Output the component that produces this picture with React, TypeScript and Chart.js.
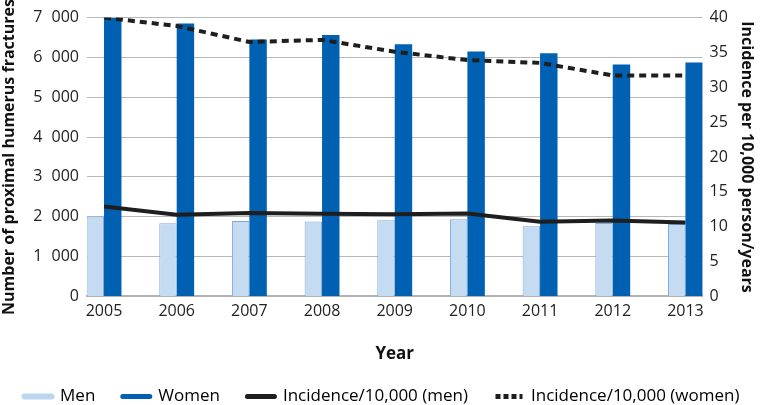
import React, { useEffect, useRef } from "react";
import { Chart, registerables } from "chart.js";

Chart.register(...registerables);

const years = ["2005", "2006", "2007", "2008", "2009", "2010", "2011", "2012", "2013"];
const menCounts = [2005, 1835, 1895, 1880, 1910, 1935, 1760, 1845, 1820];
const womenCounts = [6990, 6850, 6450, 6560, 6330, 6150, 6105, 5825, 5875];
const menIncidence = [12.9, 11.7, 11.95, 11.85, 11.8, 11.9, 10.7, 10.9, 10.6];
const womenIncidence = [40.0, 38.8, 36.5, 36.8, 35.1, 33.9, 33.5, 31.7, 31.7];

const legendNames = ["Men", "Women", "Incidence/10,000 (men)", "Incidence/10,000 (women)"];
const FONT = "'Open Sans', 'Noto Sans', sans-serif";
const GAP = "\u2003\u2002";

function fmt(v: number): string {
  const s = String(Math.round(v));
  return s.replace(/\B(?=(\d{3})+(?!\d))/g, "\u2007");
}

const pts = (arr: number[]) => arr.map((y, i) => ({ x: i, y }));

export default function App() {
  const ref = useRef<HTMLCanvasElement | null>(null);
  useEffect(() => {
    if (!ref.current) return;
    const chart = new Chart(ref.current, {
      type: "bar",
      data: {
        datasets: [
          {
            type: "bar",
            label: legendNames[0],
            data: pts(menCounts),
            backgroundColor: "#c5dbf1",
            borderColor: "#7ea9d8",
            borderWidth: 1,
            yAxisID: "y",
            categoryPercentage: 0.48,
            barPercentage: 1,
            order: 2,
          },
          {
            type: "bar",
            label: legendNames[1],
            data: pts(womenCounts),
            backgroundColor: "#0060b2",
            borderWidth: 0,
            yAxisID: "y",
            categoryPercentage: 0.48,
            barPercentage: 1,
            order: 2,
          },
          {
            type: "line",
            label: legendNames[2],
            data: pts(menIncidence),
            borderColor: "#1e1e1e",
            borderWidth: 4,
            pointRadius: 0,
            tension: 0,
            fill: false,
            yAxisID: "y1",
            order: 0,
          },
          {
            type: "line",
            label: legendNames[3],
            data: pts(womenIncidence),
            borderColor: "#1e1e1e",
            borderWidth: 4,
            borderDash: [7, 5],
            pointRadius: 0,
            tension: 0,
            fill: false,
            yAxisID: "y1",
            order: 0,
          },
        ],
      } as any,
      options: {
        animation: false,
        responsive: false,
        maintainAspectRatio: false,
        layout: { padding: { top: 0, left: 0, right: 0, bottom: -10 } },
        plugins: {
          tooltip: { enabled: false },
          legend: {
            position: "bottom",
            labels: {
              usePointStyle: true,
              pointStyleWidth: 27,
              boxHeight: 16,
              padding: 2,
              color: "#222",
              font: { family: FONT, size: 17 },
              generateLabels: () => [
                { text: legendNames[0] + GAP, pointStyle: "line", strokeStyle: "#bcd6ef", lineWidth: 6, lineCap: "round", fillStyle: "#bcd6ef", datasetIndex: 0 },
                { text: legendNames[1] + GAP, pointStyle: "line", strokeStyle: "#0060b2", lineWidth: 5, lineCap: "round", fillStyle: "#0060b2", datasetIndex: 1 },
                { text: legendNames[2] + GAP, pointStyle: "line", strokeStyle: "#1e1e1e", lineWidth: 5, lineCap: "round", fillStyle: "#1e1e1e", datasetIndex: 2 },
                { text: legendNames[3], pointStyle: "line", strokeStyle: "#1e1e1e", lineWidth: 5, lineDash: [5, 3], lineCap: "butt", fillStyle: "#1e1e1e", datasetIndex: 3 },
              ] as any,
            },
          },
        },
        scales: {
          x: {
            type: "linear",
            min: -0.235,
            max: 8.235,
            offset: false,
            grid: { display: false, drawTicks: false },
            border: { display: true, color: "#b3b3b3", width: 2 },
            ticks: {
              stepSize: 1,
              includeBounds: false,
              autoSkip: false,
              maxRotation: 0,
              color: "#222",
              font: { family: FONT, size: 16 },
              padding: 5,
              callback: (v: any) => {
                const i = Number(v);
                return Number.isInteger(i) && years[i] ? years[i] : "";
              },
            },
            title: {
              display: true,
              text: "Year",
              color: "#111",
              font: { family: FONT, size: 17, weight: "bold" },
              padding: { top: 18, bottom: 22 },
            },
          },
          y: {
            position: "left",
            min: 0,
            max: 7000,
            ticks: {
              stepSize: 1000,
              color: "#222",
              font: { family: FONT, size: 16 },
              padding: 8,
              callback: (v: any) => fmt(Number(v)),
            },
            grid: { color: "#b8b8b8", lineWidth: 1, drawTicks: false },
            border: { display: false },
            title: {
              display: true,
              text: "Number of proximal humerus fractures",
              color: "#111",
              font: { family: FONT, size: 16, weight: "bold" },
              padding: { top: 0, bottom: 6 },
            },
          },
          y1: {
            position: "right",
            min: 0,
            max: 40,
            ticks: {
              stepSize: 5,
              color: "#222",
              font: { family: FONT, size: 16 },
              padding: 7,
            },
            grid: { display: false, drawTicks: false },
            border: { display: false },
            title: {
              display: true,
              text: "Incidence per 10,000 person/years",
              color: "#111",
              font: { family: FONT, size: 16, weight: "bold" },
              padding: { top: 8, bottom: 2 },
            },
          },
        },
      } as any,
    });
    return () => chart.destroy();
  }, []);
  return (
    <div style={{ position: "fixed", left: 0, top: 0, width: 764, height: 405, background: "#fff" }}>
      <canvas ref={ref} width={764} height={405} style={{ width: 764, height: 405 }} />
    </div>
  );
}
